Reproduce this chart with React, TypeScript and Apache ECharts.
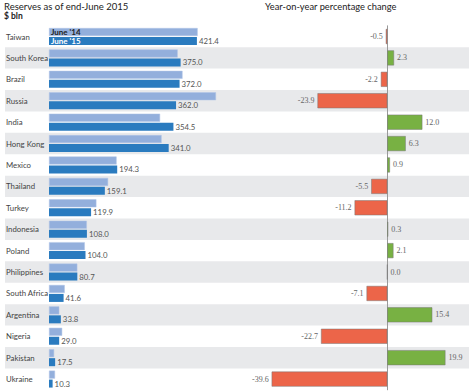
import React, { useEffect, useRef } from "react";
import * as echarts from "echarts";

const categories = ["Taiwan", "South Korea", "Brazil", "Russia", "India", "Hong Kong", "Mexico", "Thailand", "Turkey", "Indonesia", "Poland", "Philippines", "South Africa", "Argentina", "Nigeria", "Pakistan", "Ukraine"];
const june14 = [423.5, 366.6, 380.4, 475.7, 316.5, 320.8, 192.6, 168.4, 135.0, 107.7, 101.9, 80.7, 44.8, 29.3, 37.5, 14.6, 17.1];
const june15 = [421.4, 375.0, 372.0, 362.0, 354.5, 341.0, 194.3, 159.1, 119.9, 108.0, 104.0, 80.7, 41.6, 33.8, 29.0, 17.5, 10.3];
const yoyChange = [-0.5, 2.3, -2.2, -23.9, 12.0, 6.3, 0.9, -5.5, -11.2, 0.3, 2.1, 0.0, -7.1, 15.4, -22.7, 19.9, -39.6];
const legendNames = ["June '14", "June '15"];

const FONT = "Lato, sans-serif";
const SERIF = "'Liberation Serif'";

export default function App() {
  const ref = useRef<HTMLDivElement>(null);
  useEffect(() => {
    document.body.style.margin = "0";
    const chart = echarts.init(ref.current!, null, { renderer: "svg" });
    const top = 25.8;
    const height = 364;
    const catAxis = (gridIndex: number, extra: any = {}) => ({
      type: "category",
      data: categories,
      inverse: true,
      gridIndex,
      axisLine: { show: false },
      axisTick: { show: false },
      axisLabel: { show: false },
      ...extra,
    });
    const option: any = {
      animation: false,
      backgroundColor: "#fff",
      color: ["#777"],
      textStyle: { fontFamily: FONT },
      title: [
        {
          text: "Reserves as of end-June 2015",
          subtext: "$ bln",
          left: 4,
          top: 1,
          padding: 0,
          itemGap: 0,
          textStyle: { fontSize: 9.5, fontWeight: "normal", color: "#222", fontFamily: FONT },
          subtextStyle: { fontSize: 8.5, fontWeight: "bold", color: "#222", fontFamily: FONT },
        },
        {
          text: "Year-on-year percentage change",
          left: 265,
          top: 2,
          padding: 0,
          textStyle: { fontSize: 9.3, fontWeight: "normal", color: "#222", fontFamily: FONT },
        },
      ],
      grid: [
        { left: 5, right: 0, top, height },
        { left: 49, width: 175.5, top, height },
        { left: 255.9, width: 204.4, top, height },
        { left: 49, width: 175.5, top, height },
      ],
      xAxis: [
        { type: "value", gridIndex: 0, min: 0, max: 1, show: false },
        { type: "value", gridIndex: 1, min: 0, max: 500, show: false },
        { type: "value", gridIndex: 2, min: -45, max: 25, show: false },
        { type: "value", gridIndex: 3, min: 0, max: 500, show: false },
      ],
      yAxis: [
        catAxis(0, { splitArea: { show: true, areaStyle: { color: ["rgba(0,0,0,0)", "#e8e9eb"] } } }),
        catAxis(1, {
          axisLabel: { show: true, align: "left", margin: 43, fontSize: 7.8, color: "#444", fontFamily: FONT },
        }),
        catAxis(2, {
          axisLine: { show: true, onZero: true, lineStyle: { color: "#999", width: 1 } },
        }),
        catAxis(3),
      ],
      series: [
        {
          type: "bar",
          name: legendNames[0],
          xAxisIndex: 1,
          yAxisIndex: 1,
          barWidth: 8,
          barGap: "12%",
          itemStyle: { color: "#93afdc", borderColor: "#b0c5e6", borderWidth: 0.5 },
          data: june14.map((v, i) =>
            i === 0
              ? { value: v, label: { show: true, position: "insideLeft", distance: 2, formatter: legendNames[0], fontSize: 8, fontWeight: "bold", color: "#222", fontFamily: FONT } }
              : v
          ),
        },
        {
          type: "bar",
          name: legendNames[1],
          xAxisIndex: 1,
          yAxisIndex: 1,
          barWidth: 8,
          barGap: "12%",
          itemStyle: { color: "#2a7bbf" },
          label: { show: true, position: "right", distance: 2, fontSize: 7.8, color: "#555", fontFamily: FONT, formatter: (p: any) => p.value.toFixed(1) },
          data: june15,
        },
        {
          type: "bar",
          xAxisIndex: 3,
          yAxisIndex: 3,
          barWidth: 8,
          barGap: "12%",
          silent: true,
          itemStyle: { color: "rgba(0,0,0,0)" },
          data: june14.map(() => 0),
        },
        {
          type: "bar",
          xAxisIndex: 3,
          yAxisIndex: 3,
          barWidth: 8,
          barGap: "12%",
          silent: true,
          itemStyle: { color: "rgba(0,0,0,0)" },
          data: june15.map((v, i) =>
            i === 0
              ? { value: v, label: { show: true, position: "insideLeft", distance: 2, formatter: legendNames[1], fontSize: 8, fontWeight: "bold", color: "#fff", fontFamily: FONT } }
              : v
          ),
        },
        {
          type: "bar",
          xAxisIndex: 2,
          yAxisIndex: 2,
          barWidth: 15,
          color: "#777",
          itemStyle: {
            color: (p: any) => (p.value < 0 ? "#ec6549" : "#78b143"),
            borderColor: (p: any) => (p.value < 0 ? "#f08a72" : "#9ccb74"),
            borderWidth: 0.5,
          },
          label: {
            show: true,
            distance: 0,
            fontSize: 8,
            color: "#666",
            fontFamily: SERIF,
            formatter: (p: any) => p.value.toFixed(1),
          },
          data: yoyChange.map((v) => ({
            value: v,
            label: { position: v < 0 ? "insideLeft" : "insideRight", offset: v < 0 ? [-3, 0] : [3, 0], align: v < 0 ? "right" : "left" },
          })),
        },
      ],
    };
    chart.setOption(option);
    return () => chart.dispose();
  }, []);
  return <div ref={ref} style={{ width: 469, height: 392 }} />;
}
